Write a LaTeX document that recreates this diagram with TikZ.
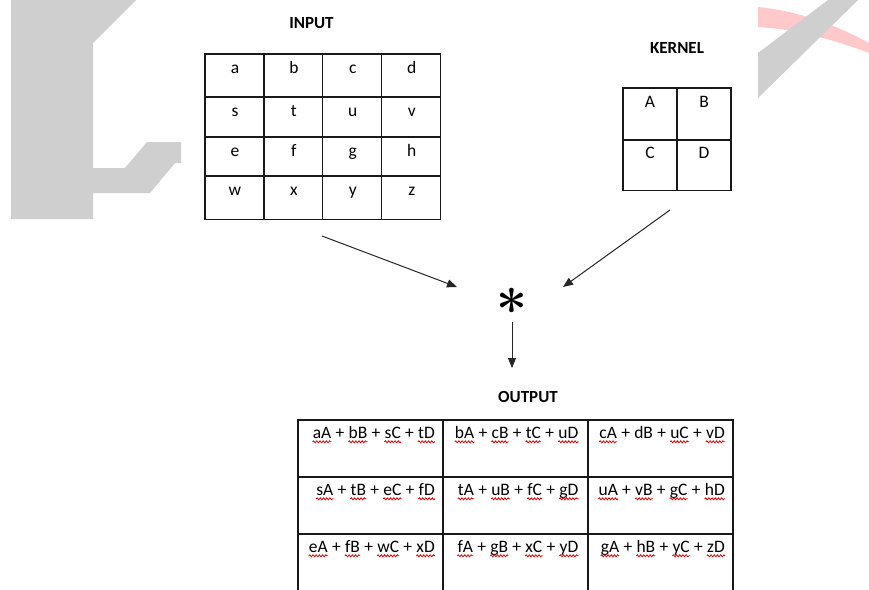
\documentclass[tikz,border=0pt]{standalone}
\usepackage{fontspec}
\setmainfont{Carlito}
\newfontfamily\lmfont{Latin Modern Roman}
\usetikzlibrary{arrows.meta,decorations.pathmorphing}

\definecolor{wmgray}{RGB}{207,207,207}
\definecolor{wmpink}{RGB}{255,201,203}

\tikzset{
  tbl/.style={line width=1.3pt, black!90},
  cell/.style={inner sep=0pt, anchor=base, font=\fontsize{17.5}{20}\selectfont},
  head/.style={inner sep=0pt, anchor=base, font=\fontsize{17}{20}\selectfont\bfseries},
  term/.style={inner sep=0pt, anchor=base east, font=\fontsize{17.5}{20}\selectfont},
  plus/.style={inner xsep=3.9pt, inner ysep=0pt, anchor=base east, font=\fontsize{17.5}{20}\selectfont},
  wavy/.style={red!90!black, line width=0.8pt, decorate,
    decoration={snake, amplitude=1pt, segment length=3.2pt}},
  arr/.style={line width=1pt, black!85, -{Triangle[length=10pt,width=8pt]}},
}

% one output cell: four products joined by plus signs, set flush right;
% the last argument lists which products get a wavy underline
\newcommand\outcell[8]{%
  \node[term] (#1-4) at (#2,#3) {#7};
  \node[plus] (#1-c) at (#1-4.base west) {+};
  \node[term] (#1-3) at (#1-c.base west) {#6};
  \node[plus] (#1-b) at (#1-3.base west) {+};
  \node[term] (#1-2) at (#1-b.base west) {#5};
  \node[plus] (#1-a) at (#1-2.base west) {+};
  \node[term] (#1-1) at (#1-a.base west) {#4};
  \foreach \k in {#8} {\draw[wavy] ([yshift=-3.8pt]#1-\k.base west) -- ([yshift=-3.8pt]#1-\k.base east);}
}

\begin{document}
\begin{tikzpicture}[x=1pt, y=-1pt]
\useasboundingbox (0,0) rectangle (869,589);
\clip (0,0) rectangle (869,589);
\fill[white] (0,0) rectangle (869,589);

% background marks
\fill[wmgray] (11,0) -- (136,0) -- (93,43) -- (93,168) -- (125,168) -- (147,142)
  -- (181,142) -- (181,163) -- (175,163) -- (150,193) -- (93,193) -- (93,219)
  -- (11,219) -- cycle;
\begin{scope}
  \clip (758,0) rectangle (869,120);
  \fill[wmpink] (758,7) .. controls (800,11) and (840,27) .. (869,43)
    -- (869,53) .. controls (835,40) and (795,29) .. (758,27) -- cycle;
  \fill[wmgray] (758,53) -- (828,0) -- (858,0) -- (758,98) -- cycle;
\end{scope}

% input matrix
\node[head] (inputlbl) at (311.5,28) {INPUT};
\draw[tbl] (205,54) rectangle (440.7,219.5);
\foreach \x in {264,322.7,381.5} \draw[tbl] (\x,54) -- (\x,219.5);
\foreach \y in {97,137,176} \draw[tbl] (205,\y) -- (440.7,\y);
\foreach \t [count=\i from 0] in {a,b,c,d}
  \node[cell] (in-1-\t) at (235+58.9*\i,73) {\t};
\foreach \t [count=\i from 0] in {s,t,u,v}
  \node[cell] (in-2-\t) at (235+58.9*\i,116) {\t};
\foreach \t [count=\i from 0] in {e,f,g,h}
  \node[cell] (in-3-\t) at (235+58.9*\i,156) {\t};
\foreach \t [count=\i from 0] in {w,x,y,z}
  \node[cell] (in-4-\t) at (235+58.9*\i,195) {\t};

% kernel
\node[head] (kernellbl) at (677,53) {KERNEL};
\draw[tbl] (623,88) rectangle (731,190.5);
\draw[tbl] (677,88) -- (677,190.5);
\draw[tbl] (623,140) -- (731,140);
\node[cell] (kA) at (650,107) {A};
\node[cell] (kB) at (704,107) {B};
\node[cell] (kC) at (650,158) {C};
\node[cell] (kD) at (704,158) {D};

% convolution operator and arrows
\node[inner sep=0pt, font=\lmfont\bfseries\fontsize{55}{55}\selectfont] (conv) at (512,308.5) {*};
\coordinate (inTail) at (322,236);
\coordinate (inTip) at (457,287);
\coordinate (kTail) at (670,210);
\coordinate (kTip) at (563,287);
\coordinate (dnTail) at (512,322);
\coordinate (dnTip) at (512,368);
\draw[arr] (inTail) -- (inTip);
\draw[arr] (kTail) -- (kTip);
\draw[arr] (dnTail) -- (dnTip);

% output matrix
\node[head] (outputlbl) at (528,402.5) {OUTPUT};
\draw[tbl] (298,591) -- (298,420) -- (733,420) -- (733,591);
\foreach \x in {443,588} \draw[tbl] (\x,420) -- (\x,591);
\foreach \y in {477,534,591} \draw[tbl] (298,\y) -- (733,\y);

\outcell{o11}{435}{438}{aA}{bB}{sC}{tD}{1,2,3,4}
\outcell{o12}{578.5}{438}{bA}{cB}{tC}{uD}{1,2,3,4}
\outcell{o13}{725}{438}{cA}{dB}{uC}{vD}{1,3,4}
\outcell{o21}{435}{495}{sA}{tB}{eC}{fD}{1,2,3,4}
\outcell{o22}{578.5}{495}{tA}{uB}{fC}{gD}{1,2,3,4}
\outcell{o23}{725}{495}{uA}{vB}{gC}{hD}{1,2,3,4}
\outcell{o31}{435}{552}{eA}{fB}{wC}{xD}{1,2,3,4}
\outcell{o32}{578.5}{552}{fA}{gB}{xC}{yD}{1,2,3,4}
\outcell{o33}{725}{552}{gA}{hB}{yC}{zD}{1,2,3,4}
\end{tikzpicture}
\end{document}
